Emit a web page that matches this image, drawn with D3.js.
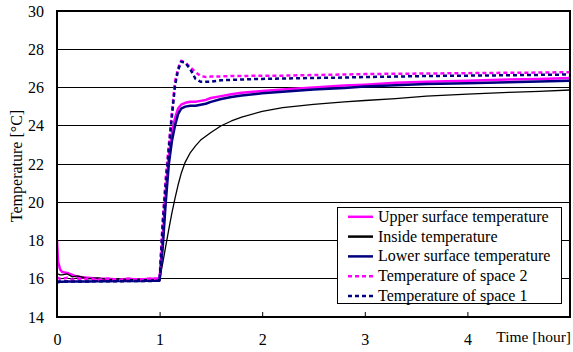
<!DOCTYPE html>
<html><head><meta charset="utf-8">
<script src="https://cdn.jsdelivr.net/npm/d3@7"></script>
<style>body{margin:0;background:#fff}svg{display:block}text{font-family:"Liberation Serif","Times New Roman",serif;fill:#000}</style>
</head><body><svg id="c" width="573" height="352"></svg>
<script>
const times = [0,0.01,0.03,0.05,0.1,0.15,0.2,0.3,0.4,0.5,0.6,0.7,0.8,0.9,1.0,1.03,1.06,1.09,1.12,1.15,1.18,1.21,1.25,1.3,1.35,1.4,1.45,1.5,1.6,1.7,1.8,2.0,2.2,2.5,2.8,3.0,3.3,3.6,4.0,4.4,4.7,5.0];
const upperSurface = [18.0,16.9,16.5,16.35,16.3,16.2,16.1,16.05,16.0,16.0,15.95,16.0,15.95,16.0,16.0,18.0,20.5,22.4,23.6,24.4,24.9,25.1,25.2,25.25,25.25,25.3,25.35,25.45,25.55,25.65,25.72,25.82,25.9,26.0,26.1,26.15,26.25,26.3,26.35,26.42,26.45,26.5];
const insideTemp = [16.25,16.25,16.2,16.2,16.25,16.1,16.15,16.0,16.05,15.95,16.0,15.95,15.95,15.95,15.95,16.8,17.7,18.6,19.45,20.2,20.9,21.5,22.1,22.6,22.95,23.25,23.45,23.65,24.0,24.25,24.45,24.75,24.95,25.12,25.25,25.32,25.42,25.55,25.65,25.75,25.8,25.87];
const lowerSurface = [15.82,15.82,15.84,15.84,15.85,15.85,15.86,15.86,15.87,15.87,15.88,15.88,15.88,15.9,15.9,17.6,20.0,22.0,23.2,24.0,24.6,24.9,25.0,25.05,25.05,25.1,25.15,25.25,25.4,25.5,25.58,25.7,25.78,25.9,25.98,26.05,26.12,26.18,26.22,26.28,26.32,26.35];
const space2 = [16.05,16.05,16.0,16.0,16.05,15.95,16.0,16.0,15.95,16.0,15.95,16.0,15.95,16.0,16.0,19.0,21.3,23.0,24.7,26.3,27.0,27.4,27.3,27.05,26.8,26.6,26.55,26.57,26.58,26.6,26.6,26.62,26.62,26.65,26.68,26.7,26.72,26.73,26.75,26.77,26.78,26.8];
const space1 = [15.85,15.85,15.85,15.85,15.85,15.86,15.86,15.86,15.87,15.87,15.87,15.88,15.88,15.88,15.9,18.8,21.0,22.8,24.5,26.1,26.9,27.35,27.3,26.95,26.45,26.3,26.3,26.3,26.38,26.4,26.42,26.45,26.47,26.5,26.52,26.55,26.57,26.6,26.62,26.64,26.66,26.68];
const xTicks = [0,1,2,3,4];
const yTicks = [14,16,18,20,22,24,26,28,30];

const series = [
  {name:"Upper surface temperature", values:upperSurface, color:"#ff00ff", width:2.5, dash:null},
  {name:"Inside temperature", values:insideTemp, color:"#000000", width:1.3, dash:null},
  {name:"Lower surface temperature", values:lowerSurface, color:"#000080", width:2.5, dash:null},
  {name:"Temperature of space 2", values:space2, color:"#ff00ff", width:2.5, dash:"4,3"},
  {name:"Temperature of space 1", values:space1, color:"#000080", width:2.5, dash:"4,3"}
];

const svg = d3.select("#c");
const L=57, R=570, T=11, B=317;
const x = d3.scaleLinear().domain([0,5]).range([L,R]);
const y = d3.scaleLinear().domain([14,30]).range([B,T]);

svg.append("g").selectAll("line").data(yTicks.filter(v=>v>14&&v<30)).join("line")
  .attr("x1",L).attr("x2",R).attr("y1",d=>y(d)).attr("y2",d=>y(d))
  .attr("stroke","#000").attr("stroke-width",1).attr("shape-rendering","crispEdges");

const ya = svg.append("g").attr("transform",`translate(${L},0)`)
  .call(d3.axisLeft(y).tickValues(yTicks).tickSize(0).tickPadding(13).tickFormat(d3.format("d")));
ya.select(".domain").remove();
ya.selectAll("text").attr("font-size",16).style("font-family","'Liberation Serif',serif");

const xa = svg.append("g").attr("transform",`translate(0,${B})`)
  .call(d3.axisBottom(x).tickValues(xTicks).tickSize(-5).tickPadding(17).tickFormat(d3.format("d")));
xa.select(".domain").remove();
xa.selectAll("line").attr("stroke","#000");
xa.selectAll("text").attr("font-size",16).style("font-family","'Liberation Serif',serif");

const line = d3.line().x((d,i)=>x(times[i])).y(d=>y(d));
svg.append("clipPath").attr("id","cp").append("rect").attr("x",L).attr("y",T).attr("width",R-L).attr("height",B-T);
svg.append("g").attr("clip-path","url(#cp)").selectAll("path").data(series).join("path")
  .attr("d",d=>line(d.values)).attr("fill","none").attr("stroke",d=>d.color)
  .attr("stroke-width",d=>d.width).attr("stroke-dasharray",d=>d.dash).attr("stroke-linejoin","round");

svg.append("rect").attr("x",L).attr("y",T).attr("width",R-L).attr("height",B-T)
  .attr("fill","none").attr("stroke","#000").attr("stroke-width",1.4).attr("shape-rendering","crispEdges");

svg.append("text").attr("x",571).attr("y",342).attr("text-anchor","end").attr("font-size",15.5).text("Time [hour]");
svg.append("text").attr("transform","translate(22,166) rotate(-90)").attr("text-anchor","middle").attr("font-size",16).text("Temperature [°C]");

const lg = svg.append("g");
lg.append("rect").attr("x",337.5).attr("y",207.5).attr("width",224).attr("height",96)
  .attr("fill","#fff").attr("stroke","#000").attr("stroke-width",1);
const rows = lg.selectAll("g").data(series).join("g").attr("transform",(d,i)=>`translate(0,${216.8+i*19.8})`);
rows.append("line").attr("x1",348).attr("x2",373).attr("stroke",d=>d.color).attr("stroke-width",2.5).attr("stroke-dasharray",d=>d.dash);
rows.append("text").attr("x",378).attr("y",5).attr("font-size",16).text(d=>d.name);
</script></body></html>
